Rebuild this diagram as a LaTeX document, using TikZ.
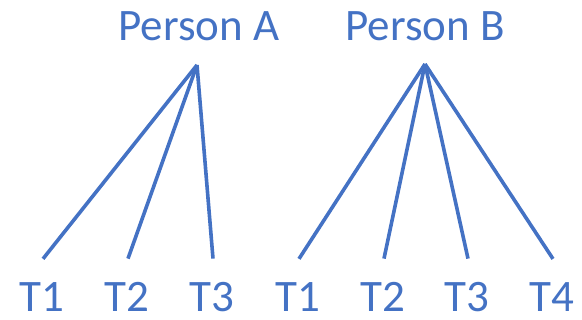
\documentclass[tikz,border=0pt]{standalone}
\usepackage{fontspec}
\setmainfont{Carlito}
\definecolor{tblue}{HTML}{4472C4}
\begin{document}
\begin{tikzpicture}[x=1pt, y=-1pt, every node/.style={font=\fontsize{45}{54}\selectfont, text=tblue, anchor=base, inner sep=1pt},
        tie/.style={draw=tblue, line width=3.6pt}]
        \useasboundingbox (0,0) rectangle (582,320);
        \node (pa) at (199,41) {Person A};
        \node (pb) at (425,41) {Person B};
        \coordinate (ta) at (197,65);
        \coordinate (tb) at (425,64);
        \node (a1) at (42,312) {T1};
        \node (a2) at (127,312) {T2};
        \node (a3) at (212,312) {T3};
        \node (b1) at (298,312) {T1};
        \node (b2) at (383,312) {T2};
        \node (b3) at (467,312) {T3};
        \node (b4) at (552,312) {T4};
        \foreach \t in {a1,a2,a3}
            \draw[tie] (ta) -- ([xshift=1pt,yshift=23pt]\t.north);
        \foreach \t in {b1,b2,b3,b4}
            \draw[tie] (tb) -- ([xshift=1pt,yshift=23pt]\t.north);
    \end{tikzpicture}
\end{document}
